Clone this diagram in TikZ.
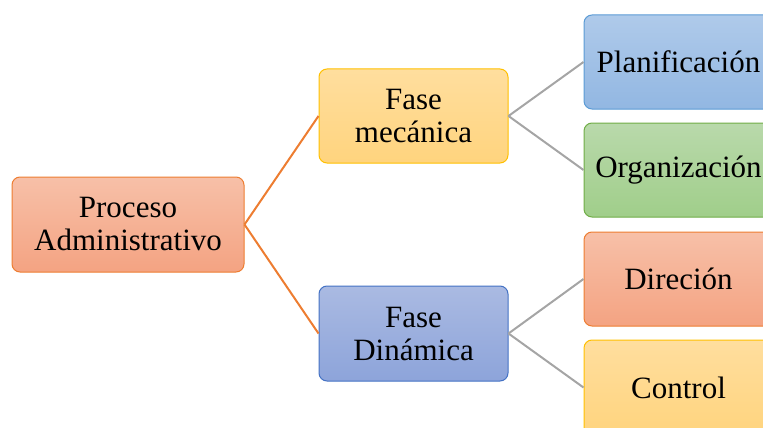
\documentclass[tikz,border=0pt]{standalone}
\usepackage{fontspec}
\setmainfont{Liberation Serif}
\definecolor{orbd}{HTML}{ED7D31}
\definecolor{ortop}{HTML}{F7C0A8}
\definecolor{orbot}{HTML}{F4A382}
\definecolor{yebd}{HTML}{FFC000}
\definecolor{yetop}{HTML}{FFDE9E}
\definecolor{yebot}{HTML}{FFD47E}
\definecolor{blbd}{HTML}{4472C4}
\definecolor{bltop}{HTML}{AABAE2}
\definecolor{blbot}{HTML}{8DA4DA}
\definecolor{lbbd}{HTML}{5B9BD5}
\definecolor{lbtop}{HTML}{AFCAEA}
\definecolor{lbbot}{HTML}{92B7E2}
\definecolor{grbd}{HTML}{70AD47}
\definecolor{grtop}{HTML}{B9D9AB}
\definecolor{grbot}{HTML}{A0CE8A}
\definecolor{lnor}{HTML}{ED7D31}
\definecolor{lngr}{HTML}{A5A5A5}
\tikzset{
  box/.style={draw, line width=1pt, rounded corners=8pt, minimum width=189pt, minimum height=94pt,
    align=center, inner sep=0pt, font=\fontsize{31}{33}\selectfont},
  orangebox/.style={box, draw=orbd, top color=ortop, bottom color=orbot},
  yellowbox/.style={box, draw=yebd, top color=yetop, bottom color=yebot},
  bluebox/.style={box, draw=blbd, top color=bltop, bottom color=blbot},
  lbluebox/.style={box, draw=lbbd, top color=lbtop, bottom color=lbbot},
  greenbox/.style={box, draw=grbd, top color=grtop, bottom color=grbot},
  orline/.style={draw=lnor, line width=2pt},
  grline/.style={draw=lngr, line width=2pt}
}
\begin{document}
\begin{tikzpicture}[x=1pt,y=1pt]
\useasboundingbox (0,0) rectangle (763,-428);
\clip (0,0) rectangle (763,-428);
\node[orangebox, minimum width=232pt, minimum height=95pt] (root) at (128,-224.5) {Proceso\\Administrativo};
\node[yellowbox] (fm) at (413.5,-116) {Fase\\mecánica};
\node[bluebox, minimum height=95pt] (fd) at (413.5,-333.5) {Fase\\Dinámica};
\node[lbluebox] (pl) at (678.5,-62) {Planificación};
\node[greenbox] (or) at (678.5,-170) {Organización};
\node[orangebox] (di) at (678.5,-279) {Direción};
\node[yellowbox, minimum height=95pt] (co) at (678.5,-387.5) {Control};
\draw[orline] (root.east) -- (fm.west);
\draw[orline] (root.east) -- (fd.west);
\draw[grline] (fm.east) -- (pl.west);
\draw[grline] (fm.east) -- (or.west);
\draw[grline] (fd.east) -- (di.west);
\draw[grline] (fd.east) -- (co.west);
\end{tikzpicture}
\end{document}
